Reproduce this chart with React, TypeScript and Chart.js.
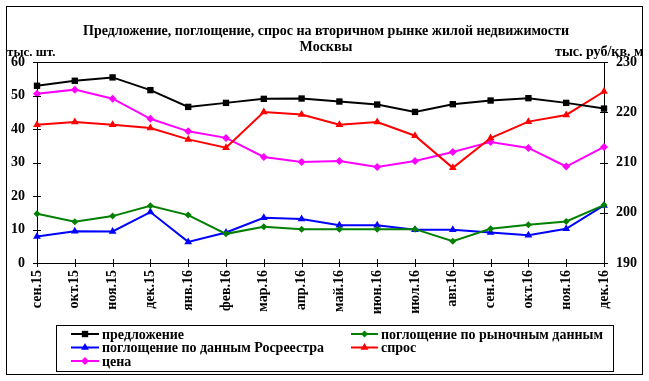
import React, { useEffect, useRef } from 'react';
import { Chart, registerables } from 'chart.js';

Chart.register(...registerables);

const FONT = "'Liberation Serif', 'Times New Roman', serif";

const titleLines = ['Предложение, поглощение, спрос на вторичном рынке жилой недвижимости', 'Москвы'];
const leftAxisTitle = 'тыс. шт.';
const rightAxisTitle = 'тыс. руб/кв. м';

const categories = ['сен.15', 'окт.15', 'ноя.15', 'дек.15', 'янв.16', 'фев.16', 'мар.16', 'апр.16', 'май.16', 'июн.16', 'июл.16', 'авг.16', 'сен.16', 'окт.16', 'ноя.16', 'дек.16'];

const supply = [52.9, 54.4, 55.4, 51.6, 46.6, 47.8, 49.0, 49.1, 48.2, 47.3, 45.1, 47.4, 48.5, 49.2, 47.8, 46.1];
const absorptionMarket = [14.7, 12.3, 14.0, 17.1, 14.3, 8.7, 10.8, 10.1, 10.1, 10.1, 10.1, 6.5, 10.2, 11.4, 12.4, 17.3];
const absorptionRosreestr = [7.9, 9.5, 9.4, 15.2, 6.3, 9.1, 13.5, 13.1, 11.3, 11.3, 9.9, 9.9, 9.1, 8.3, 10.2, 17.2];
const demand = [41.3, 42.1, 41.3, 40.3, 36.9, 34.4, 45.1, 44.3, 41.3, 42.1, 38.0, 28.4, 37.3, 42.2, 44.2, 51.2];
const price = [223.7, 224.5, 222.7, 218.7, 216.2, 214.9, 211.1, 210.1, 210.3, 209.1, 210.3, 212.1, 214.1, 212.9, 209.2, 213.1];

const leftTicks = [0, 10, 20, 30, 40, 50, 60];
const rightTicks = [190, 200, 210, 220, 230];

const seriesNames = ['предложение', 'поглощение по рыночным данным', 'поглощение по данным Росреестра', 'спрос', 'цена'];
const seriesColors = ['#000000', '#008000', '#0000FF', '#FF0000', '#FF00FF'];
const seriesMarkers = ['rect', 'rectRot', 'triangle', 'triangle', 'rectRot'];
const seriesRadius = [4.5, 3.5, 4.5, 4.5, 4];

function drawMarker(ctx: CanvasRenderingContext2D, style: string, x: number, y: number, r: number, color: string) {
  ctx.save();
  ctx.fillStyle = color;
  ctx.beginPath();
  if (style === 'rect') {
    const s = r * Math.SQRT1_2;
    ctx.rect(x - s, y - s, 2 * s, 2 * s);
  } else if (style === 'rectRot') {
    ctx.moveTo(x, y - r);
    ctx.lineTo(x + r, y);
    ctx.lineTo(x, y + r);
    ctx.lineTo(x - r, y);
    ctx.closePath();
  } else {
    ctx.moveTo(x, y - r);
    ctx.lineTo(x + r * 0.87, y + r * 0.5);
    ctx.lineTo(x - r * 0.87, y + r * 0.5);
    ctx.closePath();
  }
  ctx.fill();
  ctx.restore();
}

const decorPlugin = {
  id: 'decor',
  afterDraw(chart: any) {
    const ctx: CanvasRenderingContext2D = chart.ctx;
    const { left, right, top, bottom } = chart.chartArea;
    const seg = (x1: number, y1: number, x2: number, y2: number) => {
      ctx.beginPath();
      ctx.moveTo(x1, y1);
      ctx.lineTo(x2, y2);
      ctx.stroke();
    };
    ctx.save();
    ctx.strokeStyle = '#000';
    ctx.lineWidth = 1;
    // outer frame
    ctx.strokeRect(6.5, 6.5, 636, 368);
    // top edge of plot
    seg(left, Math.round(top) + 0.5, right, Math.round(top) + 0.5);
    // crossing ticks
    const ys = chart.scales.y;
    leftTicks.forEach((v) => {
      const py = Math.round(ys.getPixelForValue(v)) + 0.5;
      seg(left - 4, py, left + 4, py);
    });
    const ys2 = chart.scales.y1;
    rightTicks.forEach((v) => {
      const py = Math.round(ys2.getPixelForValue(v)) + 0.5;
      seg(right - 4, py, right + 4, py);
    });
    const xs = chart.scales.x;
    categories.forEach((_, i) => {
      const px = Math.round(xs.getPixelForValue(i)) + 0.5;
      seg(px, bottom - 4, px, bottom + 4);
    });

    // title
    ctx.fillStyle = '#000';
    ctx.font = `bold 14px ${FONT}`;
    ctx.textAlign = 'center';
    ctx.textBaseline = 'middle';
    ctx.fillText(titleLines[0], 326, 31);
    ctx.fillText(titleLines[1], 326, 47);

    // axis titles
    ctx.font = `bold 13px ${FONT}`;
    ctx.textAlign = 'left';
    ctx.fillText(leftAxisTitle, 7, 53);
    ctx.save();
    ctx.beginPath();
    ctx.rect(0, 0, 642, 381);
    ctx.clip();
    ctx.font = `bold 14px ${FONT}`;
    ctx.fillText(rightAxisTitle, 555, 52);
    ctx.restore();

    // legend
    ctx.strokeRect(56.5, 325.5, 557, 46);
    const rows = [334, 347.5, 361];
    const slots = [
      { col: 0, row: 0 },
      { col: 1, row: 0 },
      { col: 0, row: 1 },
      { col: 1, row: 1 },
      { col: 0, row: 2 },
    ];
    const cols = [{ x1: 71, x2: 99, tx: 102 }, { x1: 351, x2: 378, tx: 381 }];
    ctx.font = `bold 14px ${FONT}`;
    slots.forEach((s, i) => {
      const c = cols[s.col];
      const y = rows[s.row];
      ctx.strokeStyle = seriesColors[i];
      ctx.lineWidth = 2;
      seg(c.x1, y, c.x2, y);
      drawMarker(ctx, seriesMarkers[i], (c.x1 + c.x2) / 2, y, seriesRadius[i], seriesColors[i]);
      ctx.fillStyle = '#000';
      ctx.textAlign = 'left';
      ctx.textBaseline = 'middle';
      ctx.fillText(seriesNames[i], c.tx, y + 1);
    });
    ctx.restore();
  },
};

export default function App() {
  const ref = useRef<HTMLCanvasElement | null>(null);
  useEffect(() => {
    document.body.style.margin = '0';
    const canvas = ref.current;
    if (!canvas) return;
    const seriesData = [supply, absorptionMarket, absorptionRosreestr, demand, price];
    const axes = ['y', 'y', 'y', 'y', 'y1'];
    const chart = new Chart(canvas, {
      type: 'line',
      data: {
        labels: categories,
        datasets: seriesData.map((d, i) => ({
          label: seriesNames[i],
          data: d,
          yAxisID: axes[i],
          borderColor: seriesColors[i],
          backgroundColor: seriesColors[i],
          pointBackgroundColor: seriesColors[i],
          pointBorderColor: seriesColors[i],
          pointBorderWidth: 0,
          pointStyle: seriesMarkers[i] as any,
          pointRadius: seriesRadius[i],
          borderWidth: 2,
          tension: 0,
          fill: false,
          clip: false as any,
        })),
      },
      options: {
        responsive: false,
        animation: false,
        layout: { padding: { top: 62, left: 0, right: 0, bottom: 0 } },
        plugins: { legend: { display: false }, title: { display: false }, tooltip: { enabled: false } },
        scales: {
          x: {
            offset: false,
            grid: { display: false, drawTicks: false },
            border: { display: true, color: '#000', width: 1 },
            ticks: {
              color: '#000',
              font: { family: FONT, size: 14, weight: 'bold' },
              maxRotation: 90,
              minRotation: 90,
              padding: 7,
              autoSkip: false,
            },
            afterFit: (s: any) => { s.height = 118; },
          },
          y: {
            position: 'left',
            min: 0,
            max: 60,
            grid: { display: false, drawTicks: false },
            border: { display: true, color: '#000', width: 1 },
            ticks: { stepSize: 10, color: '#000', padding: 12, font: { family: FONT, size: 14, weight: 'bold' } },
            afterFit: (s: any) => { s.width = 37; },
          },
          y1: {
            position: 'right',
            min: 190,
            max: 230,
            grid: { display: false, drawTicks: false },
            border: { display: true, color: '#000', width: 1 },
            ticks: { stepSize: 10, color: '#000', padding: 12, font: { family: FONT, size: 14, weight: 'bold' } },
            afterFit: (s: any) => { s.width = 45; },
          },
        },
      } as any,
      plugins: [decorPlugin],
    });
    return () => chart.destroy();
  }, []);
  return (
    <div style={{ width: 649, height: 381 }}>
      <canvas ref={ref} width={649} height={381} style={{ display: 'block' }} />
    </div>
  );
}
